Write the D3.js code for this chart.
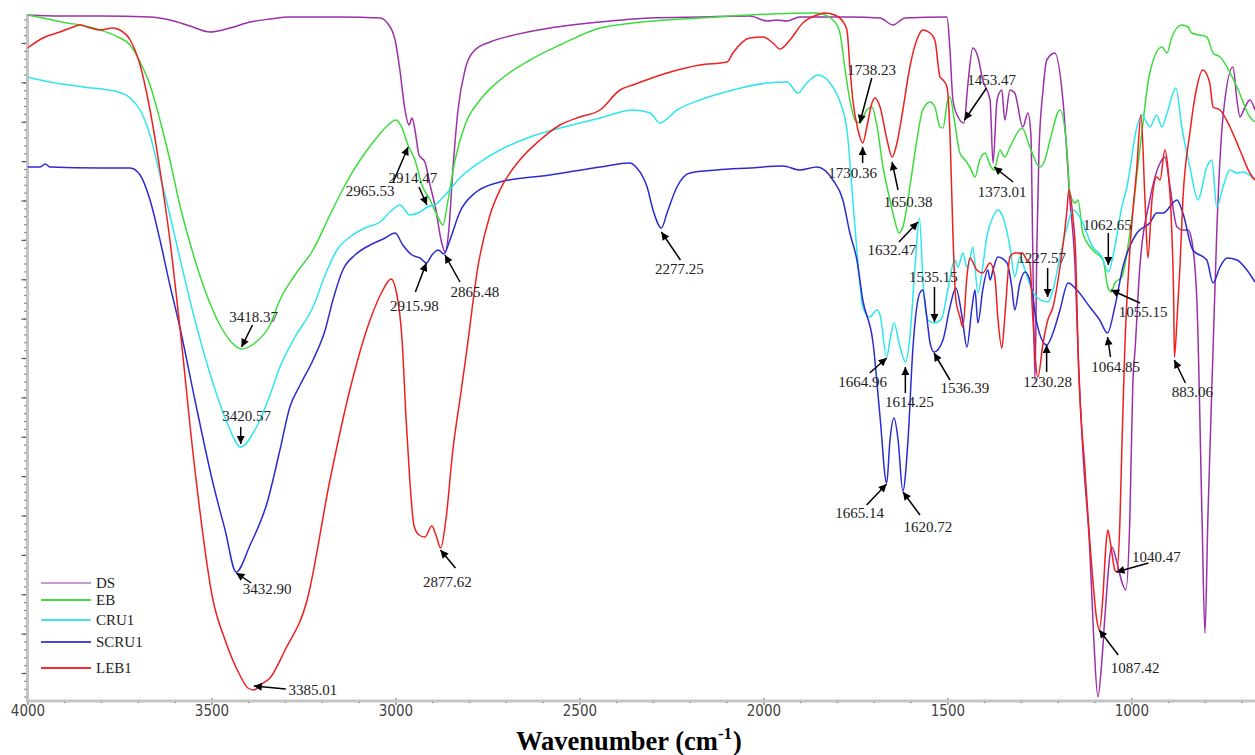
<!DOCTYPE html>
<html><head><meta charset="utf-8">
<script src="https://cdn.jsdelivr.net/npm/d3@7"></script>
<style>body{margin:0;background:#fff;}svg{display:block;}</style>
</head><body><svg id="chart" width="1255" height="755"></svg>
<script>
// ---------- DATA ----------
const seriesNames = ["DS","EB","CRU1","SCRU1","LEB1"];
const xMajorTicks = [4000,3500,3000,2500,2000,1500,1000];
const xTitle = "Wavenumber (cm";
const xTitleSup = "-1";

const DS = [[4000,68.5],[3912,68.4],[3803,68.4],[3667,68.3],[3613,68.0],[3558,67.4],[3504,66.8],[3450,67.2],[3395,67.8],[3341,68.1],[3287,68.3],[3151,68.3],[3042,68.2],[3020,67.6],[3001,66.0],[2988,63.0],[2974,59.0],[2963,57.5],[2955,58.2],[2947,57.0],[2936,54.5],[2920,53.8],[2906,51.5],[2890,49.0],[2876,46.0],[2865,44.8],[2855,47.0],[2844,53.0],[2830,59.0],[2811,63.0],[2784,65.0],[2743,65.8],[2689,66.4],[2580,67.2],[2444,67.8],[2308,68.2],[2173,68.3],[2037,68.4],[1990,67.9],[1963,68.0],[1936,67.9],[1901,68.3],[1765,68.3],[1683,68.2],[1648,67.5],[1615,68.2],[1501,68.3],[1493,65.0],[1485,60.0],[1471,58.3],[1455,57.7],[1444,61.7],[1431,65.2],[1417,64.3],[1404,62.0],[1384,60.0],[1376,53.7],[1365,60.0],[1352,61.0],[1344,58.0],[1330,61.0],[1317,60.7],[1295,57.3],[1281,58.7],[1273,56.5],[1268,45.0],[1262,32.0],[1257,45.0],[1251,55.0],[1240,61.0],[1230,64.0],[1208,64.7],[1186,60.0],[1167,50.0],[1153,43.3],[1145,35.0],[1132,25.0],[1113,15.0],[1102,6.0],[1091,0.3],[1080,4.0],[1072,8.3],[1053,15.3],[1039,13.7],[1023,11.5],[1015,11.0],[1004,18.3],[996,31.7],[990,35.0],[977,43.3],[950,50.0],[922,53.7],[909,54.3],[895,51.3],[876,47.3],[860,47.0],[846,47.0],[836,46.0],[822,40.0],[808,18.3],[800,6.7],[792,18.3],[778,35.0],[768,46.7],[751,58.3],[724,63.3],[713,60.0],[705,58.3],[691,59.3],[678,60.0],[664,59.0]];

const EB = [[4000,68.5],[3958,68.2],[3893,67.7],[3857,67.5],[3803,67.0],[3754,66.3],[3721,65.5],[3694,63.8],[3667,61.5],[3640,58.0],[3613,54.0],[3586,49.5],[3553,45.0],[3518,41.0],[3477,37.5],[3444,35.7],[3418,35.1],[3382,35.7],[3341,37.5],[3314,40.0],[3273,42.5],[3224,45.0],[3178,48.5],[3137,51.5],[3096,54.0],[3056,56.0],[3020,57.5],[2999,58.0],[2982,57.2],[2966,55.5],[2947,54.0],[2928,51.5],[2906,50.0],[2887,48.5],[2871,47.5],[2857,50.0],[2838,54.0],[2811,57.5],[2770,60.0],[2716,62.0],[2634,64.0],[2553,65.5],[2444,67.2],[2355,67.7],[2173,68.2],[2037,68.5],[1855,68.7],[1811,68.0],[1792,66.7],[1779,63.3],[1765,60.0],[1751,58.0],[1738,57.7],[1719,59.0],[1705,59.3],[1691,57.3],[1675,53.3],[1656,50.0],[1640,47.5],[1632,46.7],[1621,47.3],[1602,51.3],[1583,56.0],[1567,59.0],[1547,59.8],[1534,59.3],[1520,57.3],[1512,57.2],[1499,60.0],[1493,60.3],[1480,57.7],[1466,54.7],[1452,54.0],[1439,53.3],[1425,52.3],[1412,54.0],[1398,54.7],[1384,53.5],[1373,53.0],[1357,55.0],[1344,54.3],[1330,55.3],[1297,57.2],[1276,55.3],[1249,53.3],[1235,54.0],[1221,56.0],[1194,59.0],[1175,55.0],[1167,50.7],[1153,49.7],[1145,50.0],[1132,46.7],[1105,45.0],[1077,44.0],[1064,41.3],[1055,40.8],[1045,41.7],[1026,42.3],[1004,46.7],[977,55.0],[950,62.7],[917,65.3],[903,64.7],[890,66.3],[863,67.5],[846,67.3],[836,66.7],[795,66.3],[778,64.7],[759,64.3],[713,61.3],[678,58.3],[664,57.8]];

const CRU1 = [[4000,62.3],[3939,61.8],[3849,61.3],[3754,60.8],[3721,60.2],[3694,59.0],[3667,56.5],[3640,52.5],[3613,48.5],[3586,44.2],[3545,38.0],[3496,31.7],[3455,27.5],[3421,25.3],[3382,27.0],[3341,30.5],[3314,33.3],[3273,36.3],[3224,39.3],[3191,42.5],[3159,45.0],[3124,46.3],[3083,47.2],[3042,47.8],[3009,49.0],[2988,49.5],[2961,48.5],[2933,48.8],[2914,49.3],[2893,49.5],[2865,50.5],[2825,52.2],[2770,53.8],[2716,55.0],[2634,56.3],[2553,57.2],[2444,58.2],[2355,59.0],[2308,58.7],[2281,57.7],[2235,59.0],[2173,60.0],[2083,61.0],[1990,61.7],[1936,61.8],[1906,60.7],[1882,61.7],[1852,62.5],[1819,61.7],[1797,60.3],[1773,57.0],[1757,50.0],[1746,45.0],[1738,41.7],[1730,39.3],[1711,38.3],[1692,39.0],[1683,38.5],[1665,34.3],[1656,36.0],[1645,37.7],[1630,35.5],[1614,33.8],[1602,36.3],[1588,43.3],[1576,48.2],[1566,41.7],[1553,38.0],[1535,37.7],[1515,38.2],[1499,41.0],[1480,44.0],[1471,43.3],[1458,44.7],[1447,43.3],[1439,44.0],[1431,45.3],[1417,40.7],[1404,43.3],[1393,46.3],[1376,48.3],[1363,49.0],[1349,48.3],[1330,45.3],[1317,42.3],[1303,44.3],[1289,43.0],[1270,41.0],[1257,40.3],[1227,39.8],[1213,41.0],[1194,44.3],[1175,47.3],[1159,49.0],[1140,48.3],[1105,45.3],[1080,44.3],[1063,42.8],[1045,45.3],[1026,49.3],[1012,51.3],[985,57.3],[971,58.5],[958,57.7],[950,57.3],[931,58.5],[917,57.3],[903,58.7],[879,61.2],[863,57.3],[841,53.3],[819,50.0],[795,53.3],[781,54.0],[768,49.3],[751,51.3],[732,53.0],[713,52.7],[697,52.8],[664,52.0]];

const SCRU1 = [[4000,53.3],[3966,53.3],[3952,53.6],[3939,53.3],[3803,53.2],[3721,53.2],[3694,52.5],[3667,50.0],[3640,46.0],[3613,41.5],[3586,37.3],[3545,30.0],[3496,21.7],[3463,17.0],[3433,12.8],[3395,15.5],[3349,19.7],[3314,25.0],[3287,29.3],[3259,31.5],[3224,34.0],[3191,37.0],[3170,40.0],[3143,43.0],[3110,44.5],[3069,45.5],[3028,46.2],[3001,46.7],[2980,45.5],[2955,44.5],[2933,44.2],[2916,43.7],[2901,44.5],[2884,45.0],[2868,44.6],[2852,46.0],[2825,48.8],[2784,50.7],[2716,51.8],[2580,52.5],[2444,53.3],[2363,53.7],[2344,53.2],[2316,51.3],[2300,49.0],[2277,47.2],[2262,48.7],[2235,51.3],[2200,52.7],[2126,53.0],[2037,53.2],[1947,53.4],[1901,53.0],[1855,53.3],[1811,52.0],[1784,50.0],[1765,46.7],[1746,44.0],[1730,40.0],[1702,35.7],[1683,28.3],[1665,21.7],[1656,26.0],[1645,28.2],[1634,26.0],[1621,20.9],[1607,26.0],[1594,35.0],[1575,40.7],[1567,41.0],[1556,38.3],[1547,35.7],[1536,34.8],[1512,36.0],[1493,39.3],[1477,41.2],[1460,38.3],[1447,35.3],[1433,39.3],[1425,41.0],[1417,37.7],[1404,41.0],[1390,43.0],[1384,42.0],[1376,43.0],[1363,44.3],[1338,43.7],[1325,41.3],[1317,39.0],[1303,41.7],[1289,42.8],[1276,42.0],[1257,37.7],[1230,35.5],[1213,36.7],[1194,39.0],[1172,41.7],[1148,41.0],[1113,39.3],[1086,38.0],[1065,36.7],[1045,39.3],[1023,43.3],[985,46.7],[950,47.7],[931,48.7],[914,48.7],[876,50.0],[860,48.7],[833,45.0],[795,44.0],[778,41.7],[759,43.3],[740,44.2],[713,44.0],[686,43.0],[664,41.8]];

const LEB1 = [[4000,65.2],[3958,66.2],[3912,66.8],[3876,67.3],[3857,67.5],[3838,67.3],[3803,67.0],[3768,67.2],[3749,67.0],[3721,66.0],[3694,63.5],[3667,59.0],[3640,53.0],[3613,46.0],[3586,37.3],[3545,23.0],[3496,10.0],[3463,6.0],[3423,2.5],[3401,1.2],[3385,1.0],[3363,1.6],[3341,2.2],[3300,5.0],[3240,10.0],[3178,22.0],[3124,31.0],[3069,38.0],[3034,41.0],[3012,42.1],[2996,40.5],[2982,36.0],[2971,28.0],[2961,22.0],[2950,17.5],[2936,16.5],[2920,16.3],[2901,17.4],[2890,16.5],[2877,15.2],[2863,18.0],[2844,25.0],[2825,30.0],[2806,35.0],[2776,43.3],[2743,48.5],[2716,51.0],[2662,54.0],[2607,56.0],[2553,57.5],[2499,58.3],[2444,59.0],[2390,61.0],[2355,61.5],[2262,62.7],[2173,63.5],[2099,63.8],[2083,64.7],[2037,66.2],[2001,66.3],[1974,65.7],[1955,65.1],[1928,66.0],[1893,67.7],[1855,68.5],[1833,68.7],[1806,68.5],[1787,68.0],[1773,67.0],[1765,63.3],[1757,60.0],[1743,57.0],[1730,55.7],[1719,57.3],[1705,59.7],[1697,60.2],[1683,59.3],[1664,56.0],[1650,54.3],[1637,55.7],[1621,59.0],[1602,63.3],[1580,66.3],[1567,67.0],[1547,66.7],[1534,66.0],[1520,62.3],[1512,62.0],[1501,61.3],[1493,56.7],[1485,46.7],[1477,40.0],[1466,38.3],[1458,37.3],[1447,42.3],[1439,44.2],[1420,43.0],[1404,42.7],[1384,43.7],[1371,42.3],[1363,38.3],[1352,35.2],[1344,38.3],[1330,44.3],[1317,44.7],[1297,44.7],[1284,44.0],[1276,43.7],[1268,38.3],[1254,32.3],[1240,35.7],[1227,38.0],[1213,39.3],[1194,43.3],[1175,49.0],[1170,51.0],[1159,48.3],[1151,44.0],[1145,35.0],[1126,23.0],[1107,13.0],[1094,8.0],[1087,7.0],[1078,10.0],[1069,15.5],[1064,17.0],[1056,15.5],[1045,13.0],[1040,12.8],[1031,18.0],[1026,25.0],[1018,35.0],[1004,45.0],[985,53.3],[974,58.5],[963,50.0],[955,44.2],[944,50.0],[931,52.3],[922,52.0],[909,55.0],[901,53.3],[890,46.7],[885,40.0],[883,34.3],[876,38.0],[868,43.3],[860,50.0],[841,56.7],[822,61.3],[806,63.0],[787,61.7],[778,59.3],[759,59.0],[732,57.3],[705,55.0],[678,52.7],[664,52.0]];

// peak annotations: label text, arrow tip (wavenumber, value)
const peakLabels = ["2965.53","2914.47","2915.98","2865.48","3418.37","3420.57","3432.90","2877.62","3385.01","2277.25","1738.23","1730.36","1650.38","1632.47","1453.47","1373.01","1535.15","1227.57","1664.96","1614.25","1536.39","1230.28","1665.14","1620.72","1062.65","1055.15","1064.85","883.06","1040.47","1087.42"];
const peakTipW = [2965.53,2914.47,2915.98,2865.48,3418.37,3420.57,3432.90,2877.62,3385.01,2277.25,1738.23,1730.36,1650.38,1580,1453.47,1373.01,1535.15,1227.57,1664.96,1614.25,1536.39,1230.28,1665.14,1620.72,1062.65,1055.15,1064.85,883.06,1040.47,1087.42];
const peakTipV = [55.3,49.5,43.7,44.5,35.3,25.6,12.7,15.0,1.4,46.8,57.7,55.3,53.8,47.8,58.0,53.3,37.8,40.3,34.2,33.3,34.7,35.5,21.6,20.8,43.5,41.0,36.3,34.0,12.8,7.0];

// ---------- LAYOUT / STYLE ----------
// per annotation: [tailDx, tailDy, labelDx, labelDy] in pixels relative to the tip
const peakLayout = [[-15,35,-38,44],[-8,-18,-14,-27],[-11,29,-12,43],[15,27,30,37],[11,-22,12,-30],[0,-17,6,-28],[15,10,31,16],[15,18,7,32],[32,3,59,4],[19,28,18,37],[12,-45,12,-53],[0,16,-10,26],[6,28,16,40],[-19,20,-26,28],[22,-32,27,-40],[19,15,8,25],[0,-35,-1,-45],[0,-29,-6,-39],[-17,15,-24,24],[0,26,4,35],[16,27,31,35],[0,27,1,37],[-20,21,-27,29],[17,23,25,35],[0,-32,-1,-40],[29,13,32,22],[3,20,8,30],[11,23,18,32],[32,-9,40,-15],[19,25,36,38]];
const colors = {DS:"#9b30a8", EB:"#3ddc3d", CRU1:"#2ee6ee", SCRU1:"#2b2bd0", LEB1:"#ee1f1f"};
const legendColors = {DS:"#c89ad2", EB:"#44dd44", CRU1:"#3ee4ea", SCRU1:"#4848dc", LEB1:"#ee3030"};
const legendY = [583,600,620,642,668];

const pLeft = 27.5, pRight = 1255, pBottom = 700, pTop = 14;
const svg = d3.select("#chart");
const x = d3.scaleLinear().domain([4000,664]).range([pLeft,pRight]);
const y = d3.scaleLinear().domain([0,70]).range([pBottom,0]);

const defs = svg.append("defs");
defs.append("clipPath").attr("id","clip")
  .append("rect").attr("x",pLeft).attr("y",0).attr("width",pRight-pLeft).attr("height",pBottom+1);
defs.append("marker").attr("id","arr")
  .attr("viewBox","0 0 10 10").attr("refX",10).attr("refY",5)
  .attr("markerWidth",9).attr("markerHeight",8).attr("markerUnits","userSpaceOnUse")
  .attr("orient","auto")
  .append("path").attr("d","M0,0 L10,5 L0,10 Z").attr("fill","#000");

// axes
const axisColor = "#c4c4c4";
const yTickOrigin = 2.7, yMajor = 3.9375, yMinor = yMajor/5;
const yMinorVals = d3.range(-3,85).map(i => yTickOrigin + i*yMinor).filter(v => v>=0.2 && v<=68.6);
const yMajorVals = d3.range(0,17).map(i => yTickOrigin + i*yMajor);
const gy = svg.append("g").attr("transform",`translate(${pLeft},0)`)
  .call(d3.axisLeft(y).tickValues(yMinorVals).tickSize(3).tickFormat(""));
gy.select(".domain").remove();
gy.selectAll("line").attr("stroke","#555").attr("stroke-width",1.2);
const gy2 = svg.append("g").attr("transform",`translate(${pLeft},0)`)
  .call(d3.axisLeft(y).tickValues(yMajorVals).tickSize(6).tickFormat(""));
gy2.select(".domain").remove();
gy2.selectAll("line").attr("stroke","#555").attr("stroke-width",1.2);

const xMinorVals = d3.range(3900,660,-100).filter(v => v%500!==0);
const gx = svg.append("g").attr("transform",`translate(0,${pBottom+1})`)
  .call(d3.axisBottom(x).tickValues(xMinorVals).tickSize(2).tickFormat(""));
gx.select(".domain").remove();
gx.selectAll("line").attr("stroke","#444").attr("stroke-width",1.5);
const gx2 = svg.append("g").attr("transform",`translate(0,${pBottom-2})`)
  .call(d3.axisBottom(x).tickValues(xMajorTicks).tickSize(7).tickPadding(0).tickFormat(d3.format("d")));
gx2.select(".domain").remove();
gx2.selectAll("line").attr("stroke","#555").attr("stroke-width",1);
gx2.selectAll("text").attr("font-family","'Liberation Sans Narrow','DejaVu Sans Condensed','Arial Narrow',sans-serif")
  .attr("font-size",15).attr("fill","#444");

svg.append("line").attr("x1",pLeft).attr("x2",pLeft).attr("y1",pTop).attr("y2",pBottom+1)
  .attr("stroke",axisColor).attr("stroke-width",3);
svg.append("line").attr("x1",pLeft-1.5).attr("x2",pRight).attr("y1",pBottom+1).attr("y2",pBottom+1)
  .attr("stroke",axisColor).attr("stroke-width",3);

// title
const t = svg.append("text").attr("x",516).attr("y",750)
  .attr("font-family","'Liberation Serif','Times New Roman',serif").attr("font-weight","bold")
  .attr("font-size",26.5).attr("fill","#000");
t.append("tspan").text(xTitle);
t.append("tspan").text(xTitleSup).attr("font-size",17).attr("dy",-11);
t.append("tspan").text(")").attr("dy",11).attr("dx",1);

// curves
const line = d3.line().x(d=>x(d[0])).y(d=>y(d[1])).curve(d3.curveMonotoneX);
const dataMap = {DS, EB, CRU1, SCRU1, LEB1};
const gc = svg.append("g").attr("clip-path","url(#clip)");
seriesNames.forEach(n => {
  gc.append("path").datum(dataMap[n]).attr("d",line)
    .attr("fill","none").attr("stroke",colors[n]).attr("stroke-width",1.5)
    .attr("stroke-linejoin","round");
});

// annotations
const ga = svg.append("g");
peakLabels.forEach((lab,i) => {
  const tx = x(peakTipW[i]), ty = y(peakTipV[i]);
  const [adx,ady,ldx,ldy] = peakLayout[i];
  ga.append("line").attr("x1",tx+adx).attr("y1",ty+ady).attr("x2",tx).attr("y2",ty)
    .attr("stroke","#000").attr("stroke-width",1.5).attr("marker-end","url(#arr)");
  ga.append("text").attr("x",tx+ldx).attr("y",ty+ldy).text(lab)
    .attr("text-anchor","middle").attr("dominant-baseline","central")
    .attr("font-family","'Liberation Serif','Times New Roman',serif").attr("font-size",15).attr("fill","#222");
});

// legend
const gl = svg.append("g");
seriesNames.forEach((n,i) => {
  gl.append("line").attr("x1",41).attr("x2",91).attr("y1",legendY[i]).attr("y2",legendY[i])
    .attr("stroke",legendColors[n]).attr("stroke-width",2);
  gl.append("text").attr("x",96).attr("y",legendY[i]).text(n).attr("dominant-baseline","central")
    .attr("font-family","'Liberation Serif','Times New Roman',serif").attr("font-size",15).attr("fill","#222");
});
</script></body></html>
